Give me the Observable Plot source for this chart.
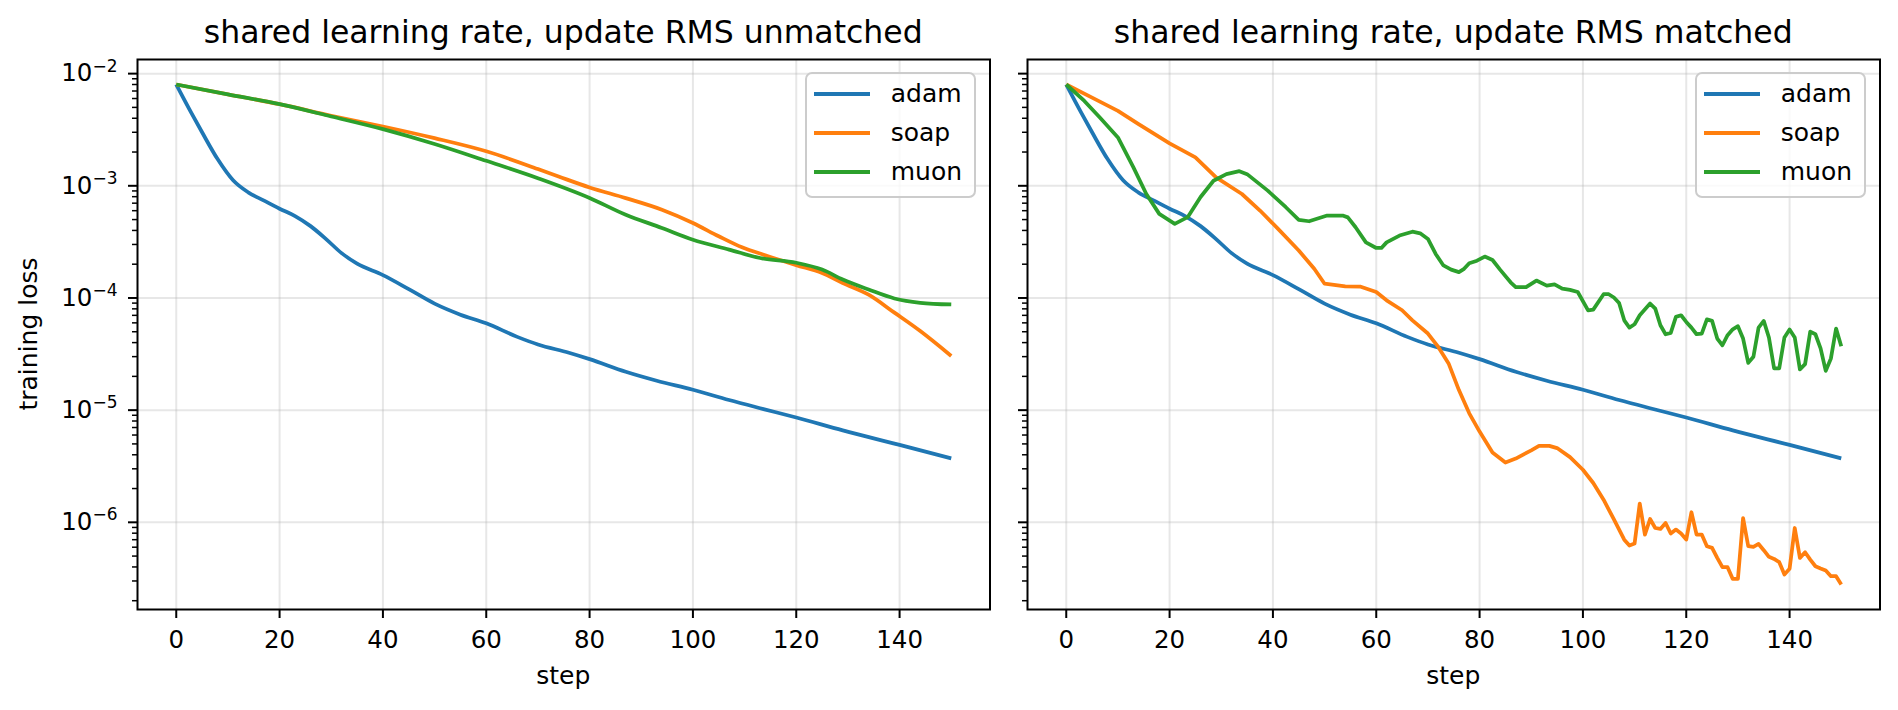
<!DOCTYPE html>
<html><head><meta charset="utf-8">
<script src="https://cdn.jsdelivr.net/npm/d3@7"></script>
<script src="https://cdn.jsdelivr.net/npm/@observablehq/plot@0.6"></script>
<style>
html,body{margin:0;padding:0;background:#fff;}
#fig{position:relative;width:1898px;height:710px;overflow:hidden;font-family:"DejaVu Sans",sans-serif;background:#fff;}
.panel{position:absolute;top:0;}
.legend{position:absolute;box-sizing:border-box;border:2px solid #cccccc;border-radius:7px;background:rgba(255,255,255,0.8);}
.legend .row{position:absolute;left:0;height:30px;width:100%;}
.legend .sw{position:absolute;top:13.1px;height:3.75px;}
.legend .lb{position:absolute;top:0;font-size:25px;line-height:30px;color:#000;white-space:nowrap;}
</style></head><body><div id="fig"></div><script>
// ---------- data ----------
const seriesNames = ["adam", "soap", "muon"];
const seriesColors = ["#1f77b4", "#ff7f0e", "#2ca02c"];
const panelTitles = ["shared learning rate, update RMS unmatched", "shared learning rate, update RMS matched"];
const xLabel = "step";
const yLabel = "training loss";
const xTicks = [0, 20, 40, 60, 80, 100, 120, 140];
const yTicks = [1e-2, 1e-3, 1e-4, 1e-5, 1e-6];

// adam (same run in both panels)
const adamSteps = [0, 3, 5, 8, 11, 14, 17, 20, 23, 26, 29, 32, 35, 40, 45, 50, 55, 60, 66, 70, 76, 80, 87, 93, 100, 107, 113, 120, 129, 140, 150];
const adamLoss  = [8.0e-3, 4.4e-3, 3.0e-3, 1.73e-3, 1.12e-3, 8.7e-4, 7.37e-4, 6.25e-4, 5.37e-4, 4.37e-4, 3.35e-4, 2.51e-4, 2.02e-4, 1.6e-4, 1.2e-4, 8.9e-5, 7.1e-5, 5.95e-5, 4.5e-5, 3.85e-5, 3.25e-5, 2.85e-5, 2.2e-5, 1.83e-5, 1.52e-5, 1.23e-5, 1.04e-5, 8.6e-6, 6.6e-6, 4.9e-6, 3.72e-6];

// unmatched panel
const soapUnmatchedSteps = [0, 10, 20, 30, 40, 50, 60, 70, 74, 80, 87, 94, 100, 105, 109.5, 114, 120, 125, 129, 134, 139, 144, 150];
const soapUnmatchedLoss  = [8.0e-3, 6.53e-3, 5.34e-3, 4.21e-3, 3.38e-3, 2.66e-3, 2.03e-3, 1.41e-3, 1.21e-3, 9.67e-4, 7.77e-4, 6.12e-4, 4.66e-4, 3.55e-4, 2.83e-4, 2.4e-4, 1.96e-4, 1.67e-4, 1.36e-4, 1.07e-4, 7.4e-5, 5.07e-5, 3.04e-5];
const muonUnmatchedSteps = [0, 10, 20, 30, 40, 50, 60, 70, 80, 87, 94, 100, 107, 113, 120, 125, 129, 134, 139, 144, 150];
const muonUnmatchedLoss  = [8.0e-3, 6.53e-3, 5.34e-3, 4.15e-3, 3.2e-3, 2.36e-3, 1.67e-3, 1.17e-3, 7.8e-4, 5.52e-4, 4.21e-4, 3.31e-4, 2.7e-4, 2.27e-4, 2.06e-4, 1.79e-4, 1.46e-4, 1.19e-4, 9.9e-5, 9.06e-5, 8.75e-5];

// matched panel
const soapMatchedSteps = [0, 5, 10, 14, 20, 25, 29, 34, 37.5, 41, 45, 48, 50, 54, 57, 60, 62, 65, 67, 70, 72, 74, 76, 78, 80, 82.5, 85, 87, 90, 91.5, 93.5, 95, 97.5, 100, 102, 104, 106, 108, 109, 110, 111, 112, 113, 114, 115, 116, 117, 118, 119, 120, 121, 122, 123, 124, 125, 126, 127, 128, 129, 130, 131, 132, 133, 134, 135, 136, 137, 138, 139, 140, 141, 142, 143, 144, 145, 146, 147, 148, 149, 150];
const soapMatchedLoss  = [8.0e-3, 6.12e-3, 4.66e-3, 3.55e-3, 2.39e-3, 1.79e-3, 1.19e-3, 8.45e-4, 6.02e-4, 4.13e-4, 2.65e-4, 1.82e-4, 1.34e-4, 1.27e-4, 1.26e-4, 1.13e-4, 9.53e-5, 7.77e-5, 6.32e-5, 4.82e-5, 3.66e-5, 2.61e-5, 1.51e-5, 9.37e-6, 6.44e-6, 4.2e-6, 3.41e-6, 3.7e-6, 4.38e-6, 4.81e-6, 4.8e-6, 4.59e-6, 3.81e-6, 2.94e-6, 2.24e-6, 1.59e-6, 1.06e-6, 7.0e-7, 6.21e-7, 6.46e-7, 1.47e-6, 7.77e-7, 1.07e-6, 8.9e-7, 8.73e-7, 9.86e-7, 7.94e-7, 8.61e-7, 7.94e-7, 7.02e-7, 1.23e-6, 7.77e-7, 7.77e-7, 6.12e-7, 5.92e-7, 4.82e-7, 3.98e-7, 3.98e-7, 3.13e-7, 3.13e-7, 1.09e-6, 6.12e-7, 6.04e-7, 6.41e-7, 5.64e-7, 4.92e-7, 4.72e-7, 4.41e-7, 3.43e-7, 3.85e-7, 8.9e-7, 4.82e-7, 5.41e-7, 4.65e-7, 4.06e-7, 3.88e-7, 3.72e-7, 3.31e-7, 3.31e-7, 2.79e-7];
const muonMatchedSteps = [0, 3.5, 6.5, 10, 13, 15.5, 18, 21, 23.5, 26, 28.5, 31, 33.5, 35, 39, 42.5, 45, 47, 50.5, 53.5, 54.5, 56, 58, 60, 61, 62, 64.5, 67, 68.5, 70, 71.5, 73, 74.5, 76, 77, 78, 79.5, 81, 82.5, 84, 86, 87, 89, 91, 93, 94.5, 96, 97.5, 99, 101, 102, 104, 105, 106, 107, 108, 109, 110, 111, 113, 114, 115, 116, 117, 118, 119, 120, 121, 122, 123, 124, 125, 126, 127, 128, 129, 130, 131, 132, 133, 134, 135, 136, 137, 138, 139, 140, 141, 142, 143, 144, 145, 146, 147, 148, 149, 150];
const muonMatchedLoss  = [8.0e-3, 5.71e-3, 4.06e-3, 2.7e-3, 1.46e-3, 8.45e-4, 5.62e-4, 4.58e-4, 5.25e-4, 7.94e-4, 1.11e-3, 1.27e-3, 1.35e-3, 1.27e-3, 9.06e-4, 6.44e-4, 4.97e-4, 4.83e-4, 5.43e-4, 5.43e-4, 5.23e-4, 4.27e-4, 3.13e-4, 2.79e-4, 2.79e-4, 3.13e-4, 3.6e-4, 3.9e-4, 3.77e-4, 3.36e-4, 2.47e-4, 1.95e-4, 1.79e-4, 1.7e-4, 1.82e-4, 2.04e-4, 2.15e-4, 2.34e-4, 2.18e-4, 1.78e-4, 1.38e-4, 1.25e-4, 1.25e-4, 1.43e-4, 1.29e-4, 1.32e-4, 1.21e-4, 1.18e-4, 1.13e-4, 7.74e-5, 7.87e-5, 1.08e-4, 1.08e-4, 1.01e-4, 9.03e-5, 6.32e-5, 5.44e-5, 5.83e-5, 7.01e-5, 8.91e-5, 8.04e-5, 5.71e-5, 4.75e-5, 4.89e-5, 6.78e-5, 7.01e-5, 6.12e-5, 5.44e-5, 4.75e-5, 4.8e-5, 6.45e-5, 6.25e-5, 4.35e-5, 3.79e-5, 4.66e-5, 5.26e-5, 5.6e-5, 4.35e-5, 2.64e-5, 2.99e-5, 5.44e-5, 6.25e-5, 4.44e-5, 2.36e-5, 2.36e-5, 4.44e-5, 5.23e-5, 4.44e-5, 2.31e-5, 2.57e-5, 5.01e-5, 4.75e-5, 3.55e-5, 2.24e-5, 2.89e-5, 5.34e-5, 3.71e-5];

// ---------- build tables ----------
function rows(name, steps, loss, smooth) { return steps.map((s, i) => ({series: name, step: s, loss: loss[i], smooth})); }
const panels = [
  {title: panelTitles[0], data: [...rows("adam", adamSteps, adamLoss, true), ...rows("soap", soapUnmatchedSteps, soapUnmatchedLoss, true), ...rows("muon", muonUnmatchedSteps, muonUnmatchedLoss, true)],
   left: 0, width: 1000, marginLeft: 137, marginRight: 10.5, yLabels: true},
  {title: panelTitles[1], data: [...rows("adam", adamSteps, adamLoss, true), ...rows("soap", soapMatchedSteps, soapMatchedLoss, false), ...rows("muon", muonMatchedSteps, muonMatchedLoss, false)],
   left: 1000, width: 898, marginLeft: 27, marginRight: 18.5, yLabels: false}
];

// matplotlib-like 5% margins
const allRows = panels.flatMap(p => p.data);
const [sMin, sMax] = d3.extent(allRows, d => d.step);
const xDomain = [sMin - 0.05 * (sMax - sMin), sMax + 0.05 * (sMax - sMin)];
const [lMin, lMax] = d3.extent(allRows, d => Math.log10(d.loss));
const yDomain = [Math.pow(10, lMin - 0.05 * (lMax - lMin)), Math.pow(10, lMax + 0.05 * (lMax - lMin))];
const yMinor = [];
for (let k = -8; k <= -1; k++) for (let m = 2; m <= 9; m++) {
  const v = m * Math.pow(10, k);
  if (v >= yDomain[0] && v <= yDomain[1]) yMinor.push(v);
}
const fmtPow = v => "10^" + String(Math.round(Math.log10(v))).replace("-", "\u2212");

const H = 710, MT = 59, MB = 101;
const fig = document.getElementById("fig");
const NS = "http://www.w3.org/2000/svg";

panels.forEach((p, pi) => {
  const grid = {stroke: "#b0b0b0", strokeOpacity: 0.3, strokeWidth: 2};
  const lineOpts = {x: "step", y: "loss", z: "series", stroke: "series", strokeWidth: 3.75, strokeLinejoin: "round", strokeLinecap: "butt"};
  const byOrder = (a, b) => seriesNames.indexOf(a.series) - seriesNames.indexOf(b.series);
  const svg = Plot.plot({
    width: p.width, height: H,
    marginTop: MT, marginBottom: MB, marginLeft: p.marginLeft, marginRight: p.marginRight,
    style: {fontFamily: "DejaVu Sans", fontSize: "24.5px", background: "transparent", color: "black", overflow: "visible"},
    x: {domain: xDomain},
    y: {type: "log", domain: yDomain},
    color: {domain: seriesNames, range: seriesColors},
    marks: [
      Plot.gridX(xTicks, grid),
      Plot.gridY(yTicks, grid),
      Plot.line(p.data.filter(d => d.smooth).sort(byOrder), {...lineOpts, curve: "monotone-x"}),
      Plot.line(p.data.filter(d => !d.smooth).sort(byOrder), {...lineOpts, curve: "linear"}),
      Plot.frame({stroke: "black", strokeWidth: 2}),
      Plot.axisX(xTicks, {tickSize: 9, tickPadding: 12, strokeWidth: 2, fontSize: 24.5, label: null, tickFormat: d => String(d)}),
      Plot.axisY(yMinor, {tickSize: 5, strokeWidth: 1.5, label: null, tickFormat: () => ""}),
      Plot.axisY(yTicks, {tickSize: 9, tickPadding: 11, strokeWidth: 2, fontSize: 24.5, label: null, tickFormat: p.yLabels ? fmtPow : () => ""})
    ]
  });
  // mathtext-like superscripts
  svg.querySelectorAll('[aria-label="y-axis tick label"] text').forEach(t => {
    const s = t.textContent;
    if (!s.includes("^")) return;
    const [b, e] = s.split("^");
    t.textContent = "";
    const t1 = document.createElementNS(NS, "tspan"); t1.textContent = b;
    const t2 = document.createElementNS(NS, "tspan"); t2.textContent = e;
    t2.setAttribute("dy", "-9.7"); t2.setAttribute("font-size", "17");
    t.append(t1, t2);
  });
  const x0 = p.marginLeft, x1 = p.width - p.marginRight;
  const cx = (x0 + x1) / 2;
  const sel = d3.select(svg);
  sel.append("text").attr("x", cx).attr("y", 42.7).attr("text-anchor", "middle")
    .attr("font-size", 31.5).attr("fill", "black").text(p.title);
  sel.append("text").attr("x", cx).attr("y", 684).attr("text-anchor", "middle")
    .attr("font-size", 25).attr("fill", "black").text(xLabel);
  if (p.yLabels) {
    sel.append("text").attr("transform", `translate(37,${(MT + H - MB) / 2}) rotate(-90)`)
      .attr("text-anchor", "middle").attr("font-size", 25).attr("fill", "black").text(yLabel);
  }
  const wrap = document.createElement("div");
  wrap.className = "panel";
  wrap.style.left = p.left + "px";
  wrap.style.width = p.width + "px";
  wrap.style.height = H + "px";
  wrap.appendChild(svg);
  // legend (upper right)
  const lg = document.createElement("div");
  lg.className = "legend";
  const lw = 171.5, lh = 125.5;
  lg.style.left = (x1 - 13.3 - lw) + "px";
  lg.style.top = (MT + 13.4) + "px";
  lg.style.width = lw + "px";
  lg.style.height = lh + "px";
  seriesNames.forEach((n, i) => {
    const r = document.createElement("div");
    r.className = "row";
    r.style.top = (21.3 + i * 39.2 - 2 - 15) + "px";
    const sw = document.createElement("div");
    sw.className = "sw"; sw.style.left = "7.4px"; sw.style.width = "56px"; sw.style.background = seriesColors[i];
    const lb = document.createElement("div");
    lb.className = "lb"; lb.style.left = "84px"; lb.textContent = n;
    r.append(sw, lb);
    lg.appendChild(r);
  });
  wrap.appendChild(lg);
  fig.appendChild(wrap);
});
</script></body></html>
